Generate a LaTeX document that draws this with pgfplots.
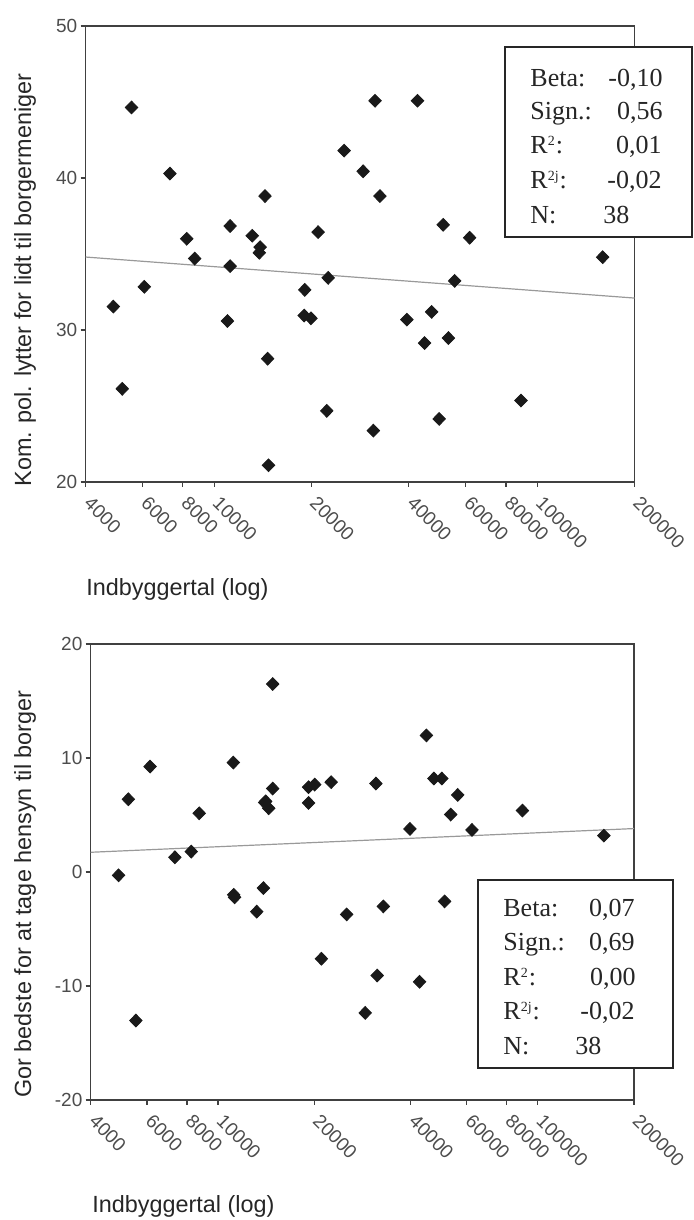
\documentclass[border=0pt]{standalone}
\usepackage{pgfplots}
\pgfplotsset{compat=1.18}
\usepackage{fontspec}
\setmainfont{Liberation Sans}
\newfontfamily\timesfont{Liberation Serif}
\newcommand\PX[2]{({(#1)*0.5pt},{(1220-(#2))*0.5pt})}
\pgfplotsset{
  myax/.style={
    scale only axis,
    xmin=4000, xmax=200000,
    xtick={4000,6000,8000,10000,20000,40000,60000,80000,100000,200000},
    xticklabels={4000,6000,8000,10000,20000,40000,60000,80000,100000,200000},
    xminorticks=false,
    axis line style={black!75, line width=0.6pt},
    tick style={black!75, line width=0.6pt},
    tick align=outside, major tick length=2.5pt,
    xtick pos=bottom, ytick pos=left,
    tick label style={font=\fontsize{9.5}{10}\selectfont, text=black!70},
    xticklabel style={xshift=3.5pt, yshift=-2.5pt, rotate=-45, anchor=north west, inner sep=1pt},
    yticklabel style={inner sep=1.5pt},
    clip=true,
  },
  pts/.style={only marks, mark=diamond*, mark size=3.2pt, color=black!90,
    mark options={xscale=1.3}},
  reg/.style={black!40, line width=0.6pt, no marks},
}
\begin{document}
\begin{tikzpicture}
\path[use as bounding box] (0,0) rectangle (347pt,610pt);
% ---------- top ----------
\begin{semilogxaxis}[myax, width=274.5pt, height=228pt, at={(42.75pt,369pt)}, anchor=south west,
  ymin=20, ymax=50, ytick={20,30,40,50}, yticklabels={20,30,40,50}]
\addplot[reg] coordinates {(4000,34.8) (200000,32.1)};
\addplot[pts] coordinates {
(5552,44.64) (7300,40.29) (31480,45.08) (42600,45.08) (25254,41.8)
(28920,40.44) (32600,38.81) (14372,38.81) (11209,36.84) (8228,36.0)
(13120,36.2) (13882,35.45) (13800,35.08) (20980,36.44) (51160,36.92)
(61770,36.07) (8708,34.7) (11209,34.2) (159400,34.79) (22545,33.43)
(6081,32.84) (19080,32.64) (55520,33.23) (4877,31.54) (19000,30.95)
(19940,30.77) (10997,30.59) (39500,30.68) (47120,31.19) (44800,29.14)
(53100,29.47) (14645,28.11) (5197,26.13) (89050,25.36) (22320,24.68)
(49720,24.15) (31100,23.38) (14737,21.1)
};
\end{semilogxaxis}
% ---------- bottom ----------
\begin{semilogxaxis}[myax, width=271.65pt, height=228pt, at={(45.35pt,60pt)}, anchor=south west,
  ymin=-20, ymax=20, ytick={-20,-10,0,10,20}, yticklabels={-20,-10,0,10,20}]
\addplot[reg] coordinates {(4000,1.73) (200000,3.81)};
\addplot[pts] coordinates {
(14830,16.49) (44850,11.98) (6133,9.25) (11168,9.6) (47330,8.2)
(50120,8.2) (22590,7.88) (31180,7.76) (20070,7.67) (19200,7.44)
(14830,7.32) (56200,6.76) (5245,6.38) (14000,6.09) (19200,6.06)
(14410,5.59) (89560,5.39) (8737,5.15) (53440,5.04) (39850,3.78)
(62280,3.69) (161000,3.19) (8250,1.79) (7333,1.29) (4888,-0.29)
(13870,-1.41) (11270,-2.22) (51130,-2.58) (13220,-3.48) (25260,-3.72)
(32900,-3.02) (21060,-7.61) (31470,-9.08) (42700,-9.63) (28870,-12.36)
(5537,-13.03) (11200,-2.0) (14100,6.2)
};
\end{semilogxaxis}
% ---------- labels ----------
\node[rotate=90, anchor=west, inner sep=0pt, font=\fontsize{11.7}{12}\selectfont, text=black!85]
  at \PX{25}{487} {Kom. pol. lytter for lidt til borgermeniger};
\node[rotate=90, anchor=west, inner sep=0pt, font=\fontsize{11.7}{12}\selectfont, text=black!85]
  at \PX{25}{1098} {Gor bedste for at tage hensyn til borger};
\node[anchor=base west, inner sep=0pt, font=\fontsize{11.7}{12}\selectfont, text=black!85]
  at \PX{86}{596} {Indbyggertal (log)};
\node[anchor=base west, inner sep=0pt, font=\fontsize{11.7}{12}\selectfont, text=black!85]
  at \PX{92}{1212} {Indbyggertal (log)};
% ---------- top box ----------
\draw[black!85, line width=0.8pt, fill=white] \PX{505}{47} rectangle \PX{692}{237};
\begin{scope}[every node/.style={inner sep=0pt, font=\timesfont\fontsize{13}{15}\selectfont, text=black!85}]
\node[anchor=base west] at \PX{530}{87} {Beta:};
\node[anchor=base west] at \PX{530}{120} {Sign.:};
\node[anchor=base west] at \PX{530}{154} {R\textsuperscript{\scriptsize 2}:};
\node[anchor=base west] at \PX{530}{189} {R\textsuperscript{\scriptsize 2j}:};
\node[anchor=base west] at \PX{530}{224} {N:};
\node[anchor=base east] at \PX{663}{87} {-0,10};
\node[anchor=base east] at \PX{663}{120} {0,56};
\node[anchor=base east] at \PX{662}{154} {0,01};
\node[anchor=base east] at \PX{662}{189} {-0,02};
\node[anchor=base west] at \PX{603}{224} {38};
\end{scope}
% ---------- bottom box ----------
\draw[black!85, line width=0.8pt, fill=white] \PX{478}{880} rectangle \PX{673}{1068};
\begin{scope}[every node/.style={inner sep=0pt, font=\timesfont\fontsize{13}{15}\selectfont, text=black!85}]
\node[anchor=base west] at \PX{503}{917} {Beta:};
\node[anchor=base west] at \PX{503}{951} {Sign.:};
\node[anchor=base west] at \PX{503}{986} {R\textsuperscript{\scriptsize 2}:};
\node[anchor=base west] at \PX{503}{1020} {R\textsuperscript{\scriptsize 2j}:};
\node[anchor=base west] at \PX{503}{1055} {N:};
\node[anchor=base east] at \PX{635}{917} {0,07};
\node[anchor=base east] at \PX{635}{951} {0,69};
\node[anchor=base east] at \PX{636}{986} {0,00};
\node[anchor=base east] at \PX{635}{1020} {-0,02};
\node[anchor=base west] at \PX{575}{1055} {38};
\end{scope}
\end{tikzpicture}
\end{document}
